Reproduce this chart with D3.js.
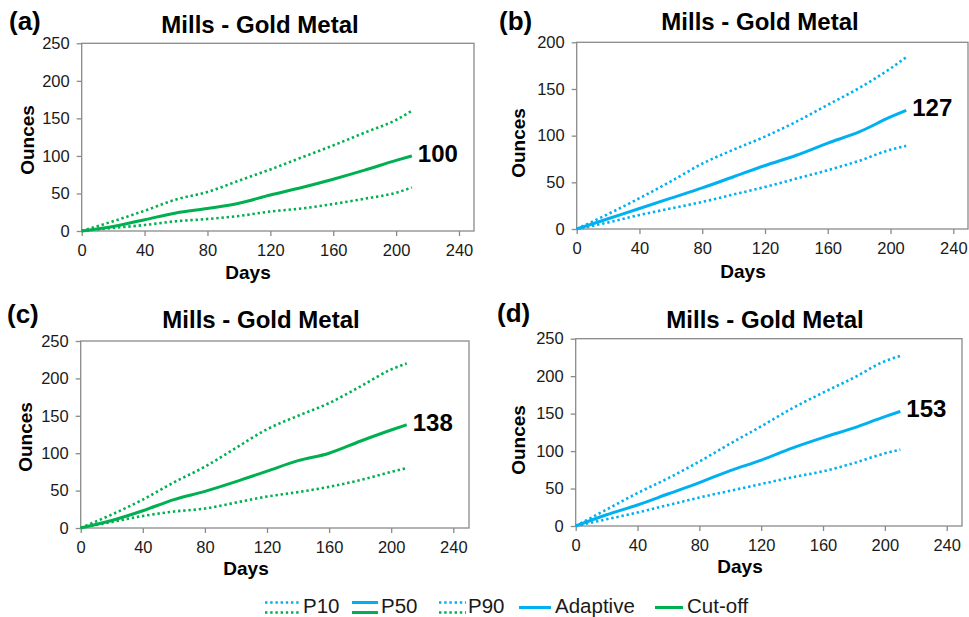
<!DOCTYPE html>
<html>
<head>
<meta charset="utf-8">
<script src="https://cdn.jsdelivr.net/npm/d3@7"></script>
<style>
  body { margin: 0; background: #fff; }
  svg { font-family: Arial, "Liberation Sans", sans-serif; }
</style>
</head>
<body>
<svg id="chart" width="969" height="617"></svg>
<script>
// --- data ---
const days = [0, 20, 40, 60, 80, 100, 120, 140, 160, 180, 200, 210];
const xTicks = [0, 40, 80, 120, 160, 200, 240];

const aP10 = [0, 4, 8, 13, 16, 20, 26, 30, 36, 43, 51, 58];
const aP50 = [0, 6, 15, 24, 30, 37, 48, 58, 69, 81, 94, 100];
const aP90 = [0, 13, 27, 42, 52, 67, 82, 98, 114, 131, 148, 160];

const bP10 = [0, 7, 15, 22, 29, 37, 45, 54, 63, 73, 85, 89];
const bP50 = [0, 11, 22, 33, 44, 56, 68, 79, 92, 104, 120, 127];
const bP90 = [0, 16, 33, 51, 70, 85, 99, 115, 133, 151, 172, 184];

const cP10 = [0, 8, 16, 22, 26, 34, 42, 48, 55, 64, 75, 80];
const cP50 = [0, 10, 23, 38, 49, 62, 76, 90, 100, 116, 131, 138];
const cP90 = [0, 18, 38, 61, 82, 107, 132, 150, 167, 189, 212, 220];

const dP10 = [0, 9, 18, 28, 38, 47, 56, 65, 73, 84, 97, 102];
const dP50 = [0, 15, 28, 43, 58, 74, 88, 104, 118, 131, 146, 153];
const dP90 = [0, 22, 44, 64, 86, 110, 133, 157, 178, 198, 220, 227];

const endLabels = ["100", "127", "138", "153"];
const panelLabels = ["(a)", "(b)", "(c)", "(d)"];
const yMaxes = [250, 200, 250, 250];

const GREEN = "#00b050", BLUE = "#00b0f0";

// panel layout (pixel boxes)
const panels = [
  { id: 0, p10: aP10, p50: aP50, p90: aP90, color: GREEN,
    x0: 81.7, x240: 459, right: 474, top: 43.3, bottom: 231,
    lab: [9, 30], title: [260, 33], days: [248, 279], ounces: [27, 140] },
  { id: 1, p10: bP10, p50: bP50, p90: bP90, color: BLUE,
    x0: 576.7, x240: 953.3, right: 968, top: 42.3, bottom: 229,
    lab: [499, 30], title: [760, 30], days: [743, 278], ounces: [518, 143] },
  { id: 2, p10: cP10, p50: cP50, p90: cP90, color: GREEN,
    x0: 80.7, x240: 453.3, right: 469, top: 341, bottom: 528,
    lab: [7, 323], title: [261, 328], days: [246, 575], ounces: [25, 437] },
  { id: 3, p10: dP10, p50: dP50, p90: dP90, color: BLUE,
    x0: 575.7, x240: 946.7, right: 962, top: 338.7, bottom: 526,
    lab: [497, 322], title: [765, 328], days: [740, 573], ounces: [518, 440] }
];

const svg = d3.select("#chart");

panels.forEach(p => {
  const x = d3.scaleLinear().domain([0, 240]).range([p.x0, p.x240]);
  const y = d3.scaleLinear().domain([0, yMaxes[p.id]]).range([p.bottom, p.top]);
  const g = svg.append("g");

  // frame
  g.append("rect")
    .attr("x", p.x0).attr("y", p.top)
    .attr("width", p.right - p.x0).attr("height", p.bottom - p.top)
    .attr("fill", "none").attr("stroke", "#8a8a8a").attr("stroke-width", 1.3);

  const xAxis = g.append("g")
    .attr("transform", `translate(0,${p.bottom})`)
    .call(d3.axisBottom(x).tickValues(xTicks).tickSize(5).tickPadding(8));
  const yAxis = g.append("g")
    .attr("transform", `translate(${p.x0},0)`)
    .call(d3.axisLeft(y).ticks(yMaxes[p.id] / 50).tickSize(5).tickPadding(7));
  [xAxis, yAxis].forEach(a => {
    a.select(".domain").remove();
    a.selectAll("line").attr("stroke", "#8a8a8a").attr("stroke-width", 1.3);
    a.selectAll("text").attr("font-size", "16.5px").attr("fill", "#1a1a1a")
      .attr("font-family", "Arial, 'Liberation Sans', sans-serif");
  });

  const line = d3.line()
    .x((d, i) => x(days[i]))
    .y(d => y(d))
    .curve(d3.curveMonotoneX);

  [p.p10, p.p90].forEach(s => {
    g.append("path").datum(s)
      .attr("d", line)
      .attr("fill", "none")
      .attr("stroke", p.color)
      .attr("stroke-width", 2.6)
      .attr("stroke-dasharray", "2.4,2.8");
  });
  g.append("path").datum(p.p50)
    .attr("d", line)
    .attr("fill", "none")
    .attr("stroke", p.color)
    .attr("stroke-width", 3);

  // end value label
  const last = p.p50.length - 1;
  g.append("text")
    .attr("x", x(days[last]) + 6)
    .attr("y", y(p.p50[last]) + 6)
    .attr("font-size", "24px").attr("font-weight", "bold")
    .text(endLabels[p.id]);

  // panel letter + title
  g.append("text")
    .attr("x", p.lab[0]).attr("y", p.lab[1])
    .attr("font-size", "26px").attr("font-weight", "bold")
    .text(panelLabels[p.id]);
  g.append("text")
    .attr("x", p.title[0]).attr("y", p.title[1])
    .attr("text-anchor", "middle")
    .attr("font-size", "24px").attr("font-weight", "bold")
    .text("Mills - Gold Metal");

  // axis titles
  g.append("text")
    .attr("x", p.days[0]).attr("y", p.days[1])
    .attr("text-anchor", "middle")
    .attr("font-size", "19px").attr("font-weight", "bold")
    .text("Days");
  g.append("text")
    .attr("transform", `translate(${p.ounces[0]},${p.ounces[1]}) rotate(-90)`)
    .attr("dy", "0.35em")
    .attr("text-anchor", "middle")
    .attr("font-size", "19px").attr("font-weight", "bold")
    .text("Ounces");
});

// --- legend ---
const legend = svg.append("g");
const legendItems = [
  { label: "P10", x1: 265, x2: 300, tx: 303, colors: [BLUE, GREEN], dash: true },
  { label: "P50", x1: 352, x2: 378, tx: 381, colors: [BLUE, GREEN], dash: false },
  { label: "P90", x1: 439, x2: 466, tx: 468, colors: [BLUE, GREEN], dash: true },
  { label: "Adaptive", x1: 519, x2: 551, tx: 555, colors: [BLUE], dash: false },
  { label: "Cut-off", x1: 655, x2: 683, tx: 687, colors: [GREEN], dash: false }
];
legendItems.forEach(it => {
  const ys = it.colors.length === 2 ? [602.5, 612.5] : [607.5];
  it.colors.forEach((c, i) => {
    legend.append("line")
      .attr("x1", it.x1).attr("x2", it.x2)
      .attr("y1", ys[i]).attr("y2", ys[i])
      .attr("stroke", c)
      .attr("stroke-width", it.dash ? 2.6 : 3)
      .attr("stroke-dasharray", it.dash ? "2.4,2.8" : null);
  });
  legend.append("text")
    .attr("x", it.tx).attr("y", 612.5)
    .attr("font-size", "20.5px").attr("fill", "#1a1a1a")
    .text(it.label);
});
</script>
</body>
</html>
